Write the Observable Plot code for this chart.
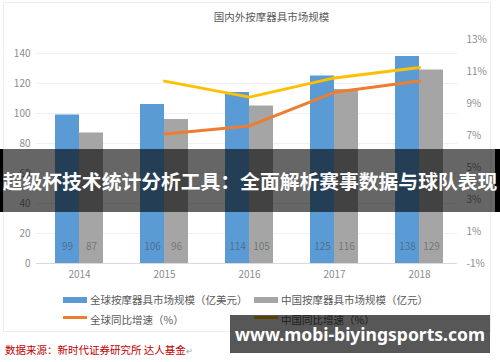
<!DOCTYPE html>
<html>
<head>
<meta charset="utf-8">
<script src="https://cdn.jsdelivr.net/npm/d3@7"></script>
<script src="https://cdn.jsdelivr.net/npm/@observablehq/plot@0.6"></script>
<style>
  html, body { margin: 0; padding: 0; background: #fff; }
  #wrap { position: relative; width: 500px; height: 362px; overflow: hidden; background: #fff;
          font-family: "Noto Sans CJK SC", "Noto Sans", sans-serif; }
  #frame { position: absolute; left: 3px; top: 2px; width: 488px; height: 330px; border: 1px solid #ededed; box-sizing: border-box; }
  #chart { position: absolute; left: 0; top: 0; }
  .abs { position: absolute; white-space: nowrap; }
  #title { left: 0; width: 543px; top: 10px; text-align: center; font-size: 10.5px; line-height: 14px; color: #595959; }
  .leg { font-size: 10.5px; line-height: 14px; color: #595959; }
  .sw { position: absolute; }
  #source { left: 5px; top: 342px; font-size: 10.5px; line-height: 15px; color: #c00000; }
  #banner { left: 0; top: 149px; width: 500px; height: 63px; background: rgba(0,0,0,0.6); }
  #bannerL { left: 0; top: 149px; width: 3px; height: 63px; background: #000; }
  #bannerR { left: 495px; top: 149px; width: 5px; height: 63px; background: #000; }
  #bannerText { left: 0; top: 149px; width: 500px; height: 63px; line-height: 63px; text-align: center;
                color: #fff; font-weight: bold; font-size: 19.8px; letter-spacing: 0px; }
  #wm { left: 230px; top: 315px; width: 260px; height: 38px; background: rgba(0,0,0,0.66); color: #fff;
        font-family: "Noto Sans", "DejaVu Sans", sans-serif; font-weight: bold; font-size: 17.5px;
        line-height: 38px; text-align: center; }
</style>
</head>
<body>
<div id="wrap">
  <div id="frame"></div>
  <div id="chart"></div>
  <div id="title" class="abs">国内外按摩器具市场规模</div>
  <div id="legend"></div>
  <div id="source" class="abs">数据来源：新时代证券研究所 达人基金<span style="color:#999;font-size:8px">↵</span></div>
  <div id="banner" class="abs"></div>
  <div id="bannerL" class="abs"></div>
  <div id="bannerR" class="abs"></div>
  <div id="bannerText" class="abs">超级杯技术统计分析工具：全面解析赛事数据与球队表现</div>
  <div id="wm" class="abs">www.mobi-biyingsports.com</div>
</div>
<script>
const years = ["2014", "2015", "2016", "2017", "2018"];
const globalMarket = [99, 106, 114, 125, 138];
const chinaMarket = [87, 96, 105, 116, 129];
const globalGrowth = [null, 7.1, 7.6, 9.7, 10.4];
const chinaGrowth = [null, 10.4, 9.4, 10.6, 11.25];
const leftTicks = [0, 20, 40, 60, 80, 100, 120, 140];
const rightTicks = [-1, 1, 3, 5, 7, 9, 11, 13];
const seriesNames = ["全球按摩器具市场规模（亿美元）", "中国按摩器具市场规模（亿元）", "全球同比增速（%）", "中国同比增速（%）"];
const colors = ["#5b9bd5", "#a5a5a5", "#ed7d31", "#ffc000"];

// secondary axis: percent mapped onto the primary scale ([-1,14]% -> [0,160])
const toLeft = v => (v + 1) * 160 / 15;
const fromLeft = u => u * 15 / 160 - 1;

const rows = years.map((y, i) => ({
  year: y, global: globalMarket[i], china: chinaMarket[i], gg: globalGrowth[i], cg: chinaGrowth[i]
}));

const chart = Plot.plot({
  width: 500,
  height: 290,
  marginTop: 23,
  marginBottom: 27,
  marginLeft: 36,
  marginRight: 43,
  style: { fontFamily: "'Noto Sans CJK SC', 'Noto Sans', sans-serif", fontSize: "10px", color: "#8c8c8c", background: "transparent" },
  x: { type: "band", domain: years, range: [36.5, 461.5], paddingInner: 0.435, paddingOuter: 0.2175, label: null },
  y: { domain: [0, 160], label: null },
  marks: [
    Plot.ruleY(leftTicks.slice(1), { stroke: "#efefef" }),
    Plot.barY(rows, { x: "year", y: "global", fill: colors[0], insetRight: 24 }),
    Plot.barY(rows, { x: "year", y: "china", fill: colors[1], insetLeft: 24 }),
    Plot.ruleY([0], { stroke: "#d9d9d9" }),
    Plot.text(rows, { x: "year", text: "global", frameAnchor: "bottom", dy: -14, dx: -12, fill: "#333", fillOpacity: 0.45, fontSize: 10 }),
    Plot.text(rows, { x: "year", text: "china", frameAnchor: "bottom", dy: -14, dx: 12, fill: "#333", fillOpacity: 0.45, fontSize: 10 }),
    Plot.lineY(rows.filter(d => d.gg != null), { x: "year", y: d => toLeft(d.gg), stroke: colors[2], strokeWidth: 3 }),
    Plot.lineY(rows.filter(d => d.cg != null), { x: "year", y: d => toLeft(d.cg), stroke: colors[3], strokeWidth: 3 }),
    Plot.axisX({ tickSize: 0, tickPadding: 7, label: null, fill: "#8c8c8c" }),
    Plot.axisY(leftTicks, { anchor: "left", tickSize: 0, tickPadding: 6, label: null, fill: "#8c8c8c" }),
    Plot.axisY(rightTicks.map(toLeft), { anchor: "right", tickSize: 0, tickPadding: 9, label: null, fill: "#8c8c8c",
      tickFormat: u => Math.round(fromLeft(u)) + "%" })
  ]
});
document.getElementById("chart").appendChild(chart);

// legend
const legend = document.getElementById("legend");
const legItems = [
  { x: 63, y: 297, type: "box" },
  { x: 254, y: 297, type: "box" },
  { x: 63, y: 317, type: "line" },
  { x: 254, y: 317, type: "line" }
];
legItems.forEach((it, i) => {
  const sw = document.createElement("div");
  sw.className = "sw";
  sw.style.left = it.x + "px";
  sw.style.width = "24px";
  sw.style.background = colors[i];
  if (it.type === "box") { sw.style.top = it.y + "px"; sw.style.height = "6px"; }
  else { sw.style.top = (it.y - 1) + "px"; sw.style.height = "2.5px"; }
  legend.appendChild(sw);
  const t = document.createElement("div");
  t.className = "abs leg";
  t.style.left = (it.x + 27) + "px";
  t.style.top = (it.y - 4) + "px";
  t.textContent = seriesNames[i];
  legend.appendChild(t);
});
</script>
</body>
</html>
